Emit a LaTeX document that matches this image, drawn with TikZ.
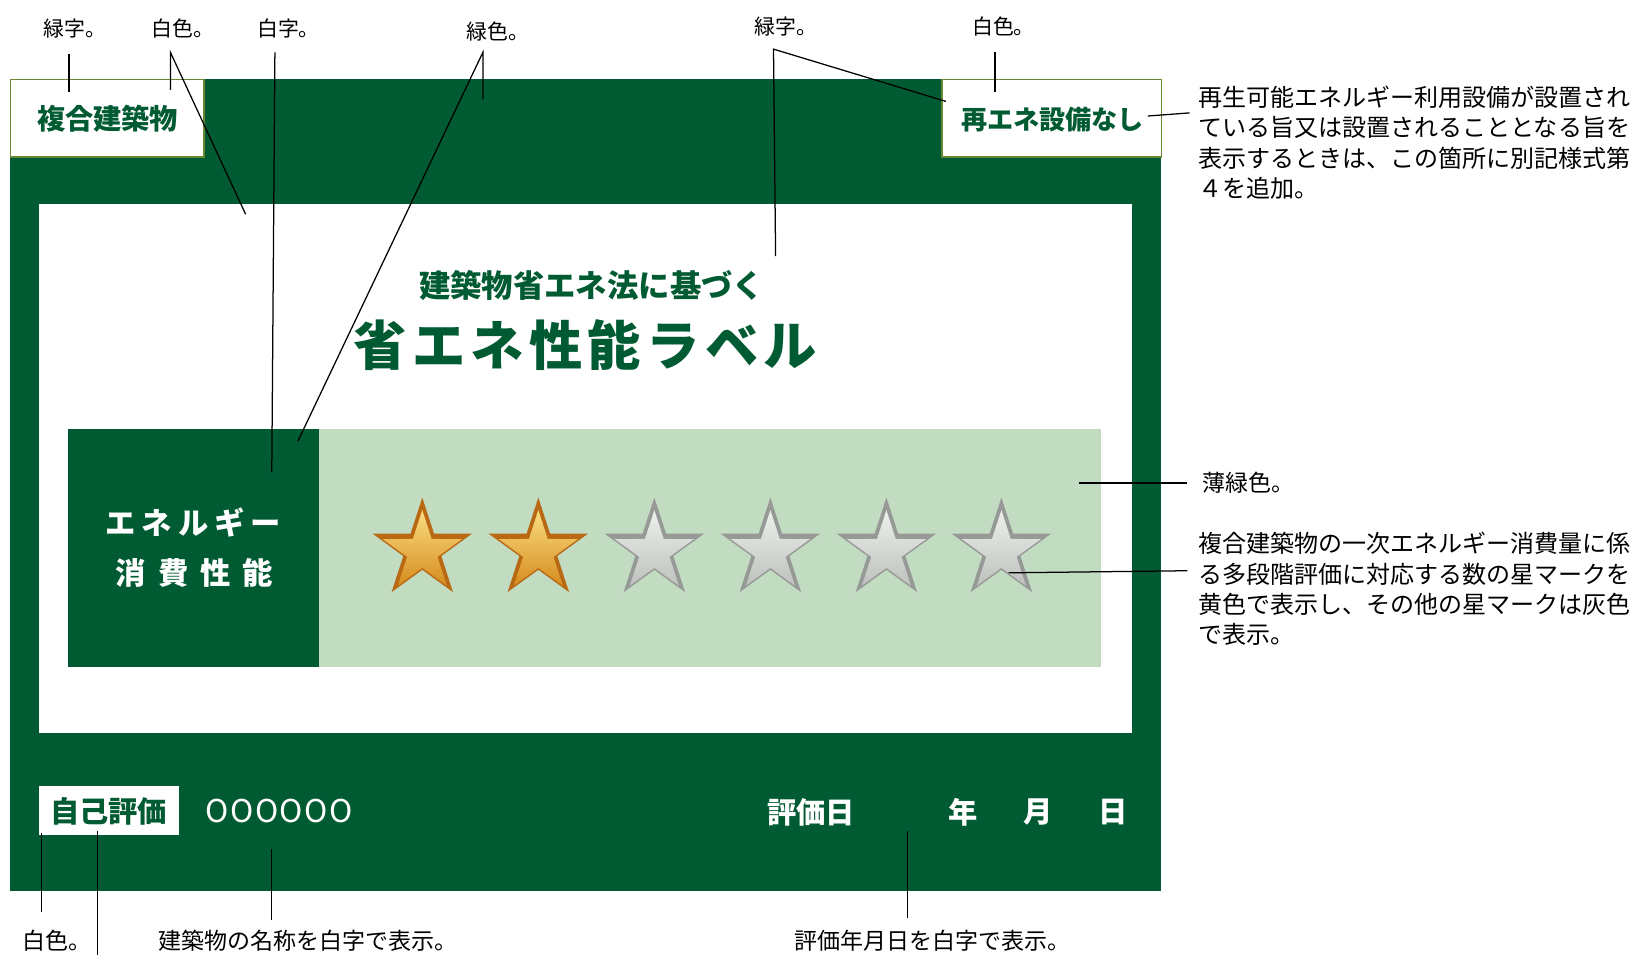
\documentclass[tikz,border=0pt]{standalone}
\usepackage{fontspec}
\setmainfont{Noto Sans CJK JP}
\usetikzlibrary{shapes.geometric}
\definecolor{dgreen}{RGB}{0,90,50}
\definecolor{lgreen}{RGB}{194,220,194}
\definecolor{oliveline}{RGB}{105,135,50}
\definecolor{goldlt}{RGB}{250,222,130}
\definecolor{golddk}{RGB}{214,140,30}
\definecolor{goldedge}{RGB}{185,105,20}
\definecolor{graylt}{RGB}{238,240,238}
\definecolor{graydk}{RGB}{190,193,190}
\definecolor{grayedge}{RGB}{150,153,150}
\tikzset{
  box/.style={anchor=north west, inner sep=0pt, outer sep=0pt},
  lead/.style={draw=black, line width=1.2pt},
  note/.style={inner sep=0pt, font=\fontsize{20}{24}\selectfont},
  blocknote/.style={anchor=north west, inner sep=0pt, align=left, font=\fontsize{23}{29}\selectfont},
  botnote/.style={inner sep=0pt, font=\fontsize{22}{26}\selectfont},
  staro/.style={star, star points=5, star point ratio=2.618, minimum size=100pt, inner sep=0pt},
  stari/.style={star, star points=5, star point ratio=2.618, minimum size=80pt, inner sep=0pt},
  goldo/.style={staro, fill=goldedge},
  goldi/.style={stari, top color=goldlt, bottom color=golddk},
  grayo/.style={staro, fill=grayedge},
  grayi/.style={stari, top color=graylt, bottom color=graydk},
}
\begin{document}
\begin{tikzpicture}[x=1pt,y=-1pt]
\useasboundingbox (0,0) rectangle (1568,914);
\fill[white] (0,0) rectangle (1568,914);

% frame and boxes
\node[box, fill=dgreen, minimum width=1101pt, minimum height=776pt] (frame) at (10,76) {};
\node[box, fill=white, draw=oliveline, line width=1.5pt, minimum width=185pt, minimum height=74pt] (tl) at (10,76) {};
\node[box, fill=white, draw=oliveline, line width=1.5pt, minimum width=210pt, minimum height=74pt] (tr) at (901,76) {};
\node[box, fill=white, minimum width=1046pt, minimum height=506pt] (inner) at (37,195) {};
\node[box, fill=dgreen, minimum width=240pt, minimum height=228pt] (ebox) at (65,410) {};
\node[box, fill=lgreen, minimum width=748pt, minimum height=228pt] (sbox) at (305,410) {};
\node[box, fill=white, minimum width=134pt, minimum height=47pt] (jbox) at (37,752) {};

% texts in label
\node[text=dgreen, font=\bfseries\fontsize{27}{30}\selectfont] (t1) at (103,114) {複合建築物};
\node[text=dgreen, font=\bfseries\fontsize{25}{30}\selectfont] (t2) at (1007,114) {再エネ設備なし};
\node[text=dgreen, font=\bfseries\fontsize{30}{34}\selectfont] (t3) at (566,273) {建築物省エネ法に基づく};
\node[text=dgreen, font=\bfseries\fontsize{51}{56}\selectfont\addfontfeatures{LetterSpace=10}] (t4) at (560,330) {省エネ性能ラベル};
\node[text=white, font=\bfseries\fontsize{29}{32}\selectfont\addfontfeatures{LetterSpace=20}] (t5) at (185,500) {エネルギー};
\node[text=white, font=\bfseries\fontsize{29}{32}\selectfont\addfontfeatures{LetterSpace=40}] (t6) at (186,548) {消費性能};
\node[text=dgreen, font=\bfseries\fontsize{28}{30}\selectfont] (t7) at (104,776) {自己評価};
\node[text=white, font=\fontsize{30}{32}\selectfont\addfontfeatures{LetterSpace=5}] (t8) at (267,776) {OOOOOO};
\node[text=white, font=\bfseries\fontsize{28}{30}\selectfont] (t9) at (776,777) {評価日};
\node[text=white, font=\bfseries\fontsize{28}{30}\selectfont] (t10) at (921,777) {年};
\node[text=white, font=\bfseries\fontsize{28}{30}\selectfont] (t11) at (993,777) {月};
\node[text=white, font=\bfseries\fontsize{28}{30}\selectfont] (t12) at (1065,777) {日};

% stars
\foreach \i/\cx in {1/404,2/515} {
  \node[goldo] (so\i) at (\cx,526) {};
  \node[goldi] (si\i) at (\cx,528) {};
}
\foreach \i/\cx in {3/626,4/737,5/848,6/958} {
  \node[grayo] (so\i) at (\cx,526) {};
  \node[grayi] (si\i) at (\cx,528) {};
}

% annotation labels
\node[note] (n1) at (72,27) {緑字。};
\node[note] (n2) at (175,27) {白色。};
\node[note] (n3) at (276,27) {白字。};
\node[note] (n4) at (476,30) {緑色。};
\node[note] (n5) at (752,25) {緑字。};
\node[note] (n6) at (960,25) {白色。};
\node[blocknote] (b1) at (1146,82) {再生可能エネルギー利用設備が設置され\\ている旨又は設置されることとなる旨を\\表示するときは、この箇所に別記様式第\\４を追加。};
\node[note, font=\fontsize{22}{26}\selectfont, anchor=west] (b2) at (1150,462) {薄緑色。};
\node[blocknote] (b3) at (1146,509) {複合建築物の一次エネルギー消費量に係\\る多段階評価に対応する数の星マークを\\黄色で表示し、その他の星マークは灰色\\で表示。};
\node[botnote] (c1) at (55,900) {白色。};
\node[botnote] (c2) at (295,900) {建築物の名称を白字で表示。};
\node[botnote] (c3) at (892,900) {評価年月日を白字で表示。};

% leader coordinates
\coordinate (p1a) at (66,52);   \coordinate (p1b) at (66,88);
\coordinate (p2a) at (163,50);  \coordinate (p2b) at (163,86);  \coordinate (p2c) at (235,205);
\coordinate (p3a) at (263,50);  \coordinate (p3b) at (260,452);
\coordinate (p4a) at (462,50);  \coordinate (p4b) at (462,95);  \coordinate (p4c) at (285,422);
\coordinate (p5a) at (740,47);  \coordinate (p5b) at (905,97);  \coordinate (p5c) at (742,245);
\coordinate (p6a) at (952,50);  \coordinate (p6b) at (952,88);
\coordinate (p7a) at (1098,111); \coordinate (p7b) at (1138,108);
\coordinate (p8a) at (1032,462); \coordinate (p8b) at (1136,462);
\coordinate (p9a) at (965,548); \coordinate (p9b) at (1136,546);
\coordinate (q1a) at (40,797);  \coordinate (q1b) at (40,872);
\coordinate (q2a) at (93,795);  \coordinate (q2b) at (93,914);
\coordinate (q3a) at (260,812); \coordinate (q3b) at (260,880);
\coordinate (q4a) at (868,795); \coordinate (q4b) at (868,878);

\draw[lead] (p1a) -- (p1b);
\draw[lead] (p2b) -- (p2a) -- (p2c);
\draw[lead] (p3a) -- (p3b);
\draw[lead] (p4b) -- (p4a) -- (p4c);
\draw[lead] (p5b) -- (p5a) -- (p5c);
\draw[lead] (p6a) -- (p6b);
\draw[lead] (p7a) -- (p7b);
\draw[lead] (p8a) -- (p8b);
\draw[lead] (p9a) -- (p9b);
\draw[lead] (q1a) -- (q1b);
\draw[lead] (q2a) -- (q2b);
\draw[lead] (q3a) -- (q3b);
\draw[lead] (q4a) -- (q4b);
\end{tikzpicture}
\end{document}
